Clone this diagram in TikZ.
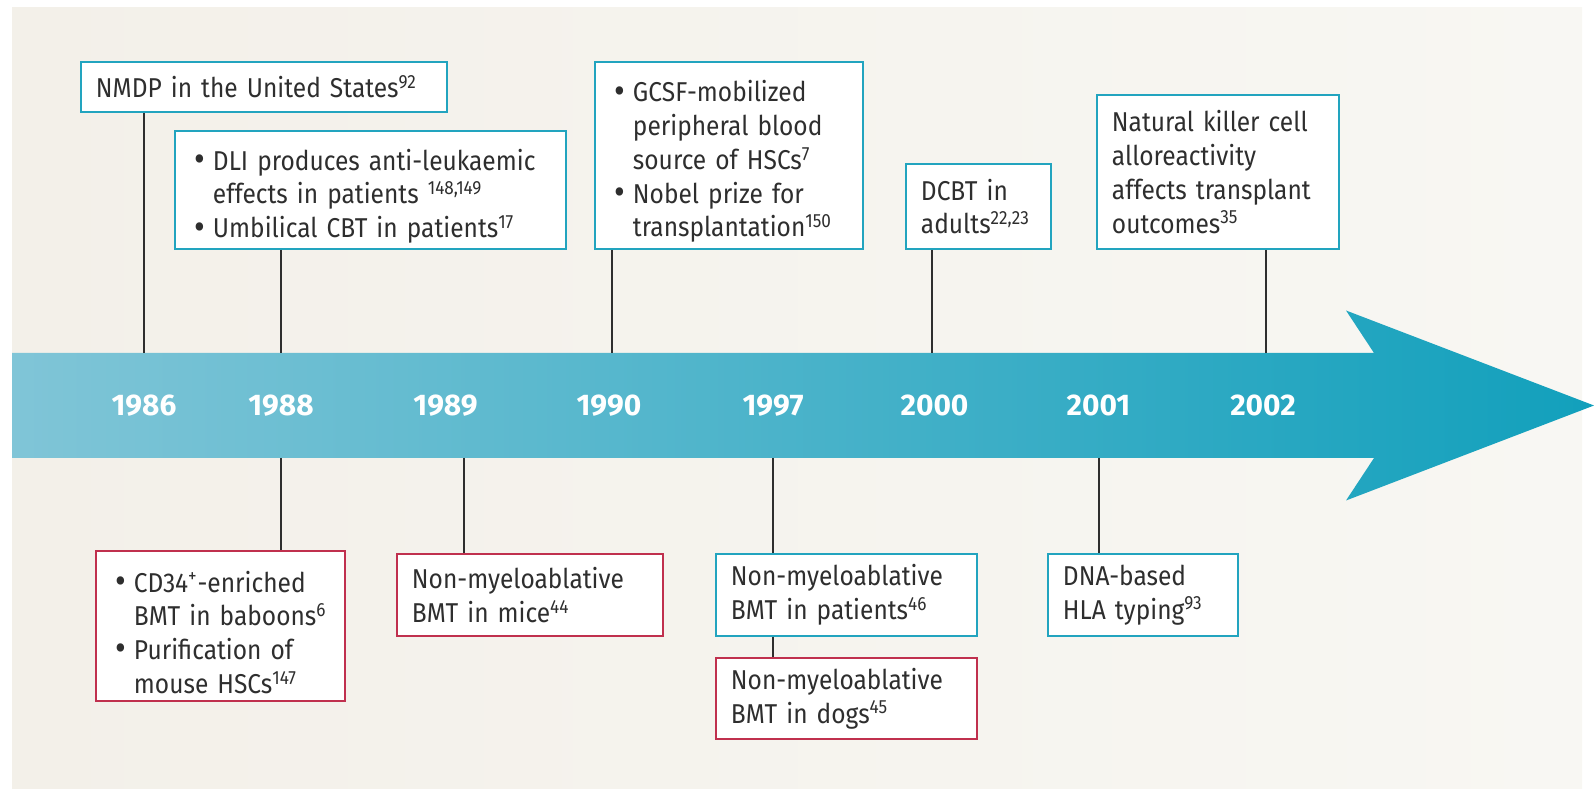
\documentclass[tikz,border=0pt]{standalone}
\usepackage{fontspec}
\setmainfont{Fira Sans}[FakeStretch=0.9]
\newfontfamily\yearfont{Fira Sans}

\definecolor{bgleft}{HTML}{F3F0E9}
\definecolor{bgright}{HTML}{F8F7F3}
\definecolor{bandleft}{HTML}{80C5D7}
\definecolor{bandmid}{HTML}{4DB2CA}
\definecolor{bandright}{HTML}{12A0BC}
\definecolor{tealbox}{HTML}{22A4BF}
\definecolor{redbox}{HTML}{C0304E}
\definecolor{ink}{HTML}{2E2E2E}

\newcommand\evfont{\fontsize{15.5}{19.2}\selectfont}
\newcommand\bitem[1]{\par\noindent\hangindent=0.46cm\hangafter=1\hspace*{0.1cm}%
  \makebox[0.36cm][l]{\raisebox{-0.1ex}{\scalebox{1.35}{\textbullet}}}#1\par}

\tikzset{
  event/.style={draw=tealbox, fill=white, line width=1.1pt, anchor=north west,
    inner xsep=0.3cm, inner ysep=0pt, align=left, text=ink, font=\evfont},
  preclin/.style={event, draw=redbox},
  year/.style={text=white, font=\yearfont\bfseries\fontsize{17}{17}\selectfont},
  stem/.style={draw=ink, line width=0.85pt},
}

\begin{document}
\begin{tikzpicture}

\useasboundingbox (0,0) rectangle (31.88,15.76);
\shade [left color=bgleft, right color=bgright] (0.24,0) rectangle (31.64,15.6);

\shade [left color=bandleft, middle color=bandmid, right color=bandright]
  (0.24,8.70) -- (27.48,8.70) -- (26.92,9.55) -- (31.88,7.65)
  -- (26.92,5.75) -- (27.48,6.60) -- (0.24,6.60) -- cycle;

\node[year] (y86) at (2.88,7.65) {1986};
\node[year] (y88) at (5.62,7.65) {1988};
\node[year] (y89) at (8.91,7.65) {1989};
\node[year] (y90) at (12.18,7.65) {1990};
\node[year] (y97) at (15.46,7.65) {1997};
\node[year] (y00) at (18.69,7.65) {2000};
\node[year] (y01) at (21.97,7.65) {2001};
\node[year] (y02) at (25.26,7.65) {2002};

\coordinate (t86) at (2.88,8.70);
\coordinate (t88) at (5.62,8.70);
\coordinate (t90) at (12.24,8.70);
\coordinate (t00) at (18.64,8.70);
\coordinate (t02) at (25.32,8.70);
\coordinate (b88) at (5.62,6.60);
\coordinate (b89) at (9.28,6.60);
\coordinate (b97) at (15.46,6.60);
\coordinate (b01) at (21.98,6.60);

% above the arrow
\node[event, text width=6.72cm, minimum height=1.00cm] (nmdp) at (1.60,14.54)
  {NMDP in the United States\textsuperscript{92}};
\node[event, text width=7.22cm, minimum height=2.36cm] (dli) at (3.48,13.16)
  {\bitem{DLI produces anti-leukaemic\newline effects in patients \textsuperscript{148,149}}\bitem{Umbilical CBT in patients\textsuperscript{17}}};
\node[event, text width=4.76cm, minimum height=3.74cm] (gcsf) at (11.88,14.54)
  {\bitem{GCSF-mobilized\newline peripheral blood\newline source of HSCs\textsuperscript{7}}\bitem{Nobel prize for\newline transplantation\textsuperscript{150}}};
\node[event, text width=2.30cm, minimum height=1.70cm] (dcbt) at (18.10,12.50)
  {DCBT in\\adults\textsuperscript{22,23}};
\node[event, text width=4.24cm, minimum height=3.08cm] (nk) at (21.92,13.88)
  {Natural killer cell\\alloreactivity\\affects transplant\\outcomes\textsuperscript{35}};

% below the arrow
\node[preclin, text width=4.38cm, minimum height=3.00cm] (cd34) at (1.90,4.76)
  {\bitem{CD34\textsuperscript{+}-enriched\newline BMT in baboons\textsuperscript{6}}\bitem{Purification of\newline mouse HSCs\textsuperscript{147}}};
\node[preclin, text width=4.72cm, minimum height=1.64cm] (mice) at (7.92,4.70)
  {Non-myeloablative\\BMT in mice\textsuperscript{44}};
\node[event, text width=4.62cm, minimum height=1.64cm] (patients) at (14.30,4.70)
  {Non-myeloablative\\BMT in patients\textsuperscript{46}};
\node[preclin, text width=4.62cm, minimum height=1.62cm] (dogs) at (14.30,2.62)
  {Non-myeloablative\\BMT in dogs\textsuperscript{45}};
\node[event, text width=3.20cm, minimum height=1.64cm] (dna) at (20.94,4.70)
  {DNA-based\\HLA typing\textsuperscript{93}};

\draw[stem] (nmdp.south -| t86) -- (t86);
\draw[stem] (dli.south -| t88) -- (t88);
\draw[stem] (gcsf.south -| t90) -- (t90);
\draw[stem] (dcbt.south -| t00) -- (t00);
\draw[stem] (nk.south -| t02) -- (t02);

\draw[stem] (b88) -- (b88 |- cd34.north);
\draw[stem] (b89) -- (b89 |- mice.north);
\draw[stem] (b97) -- (b97 |- patients.north);
\draw[stem] (patients.south -| b97) -- (dogs.north -| b97);
\draw[stem] (b01) -- (b01 |- dna.north);

\end{tikzpicture}
\end{document}
